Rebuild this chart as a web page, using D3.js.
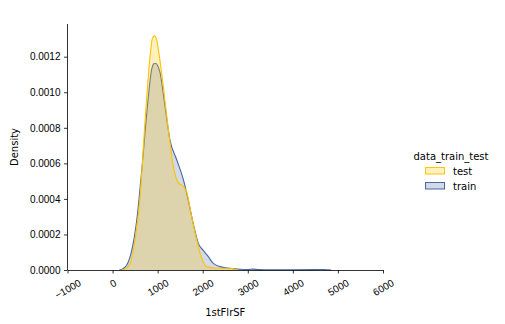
<html lang="en">
  <head>
    <meta charset="UTF-8" />
    <style>
      body { margin: 0; background: white; }
      svg { font-family: "DejaVu Sans", sans-serif; }
      .tick text { font-size: 10px; fill: #000; }
      .domain, .tick line { stroke: #000; stroke-width: 0.8; }
    </style>
    <title>KDE 1stFlrSF</title>
  </head>
  <body>
    <script src="https://cdn.jsdelivr.net/npm/d3@7"></script>
    <script>
      // values
      const seriesNames = ["test", "train"];
      const trainX = [150, 200, 315, 425, 536, 647, 758, 869, 915, 957, 1000, 1053, 1164, 1275, 1423, 1570, 1681, 1792, 1903, 2013, 2124, 2235, 2384, 2605, 2827, 3000, 3100, 3250, 3500, 4000, 4500, 4700, 4850];
      const trainY = [0, 0.000003, 0.000028, 0.00011, 0.00028, 0.00056, 0.00088, 0.00113, 0.00116, 0.001163, 0.00115, 0.00111, 0.00092, 0.00073, 0.00062, 0.00051, 0.00039, 0.00026, 0.00015, 0.00011, 0.000075, 0.000037, 0.000019, 0.0000094, 0.000004, 0.000003, 0.000005, 0.000002, 0.000001, 0.000001, 0.000002, 0.000003, 0];
      const testX = [200, 260, 388, 499, 610, 721, 831, 880, 927, 975, 1016, 1127, 1238, 1349, 1460, 1570, 1644, 1755, 1866, 1977, 2088, 2310, 2605, 2780];
      const testY = [0, 0.000003, 0.000037, 0.00017, 0.00041, 0.00084, 0.0012, 0.0013, 0.001317, 0.0013, 0.00124, 0.00103, 0.00079, 0.00058, 0.00049, 0.00047, 0.00044, 0.0003, 0.00017, 0.000066, 0.000019, 0.00001, 0.00001, 0];
      const xTicks = [-1000, 0, 1000, 2000, 3000, 4000, 5000, 6000];
      const yTicks = [0, 0.0002, 0.0004, 0.0006, 0.0008, 0.001, 0.0012];

      const width = 505;
      const height = 324;
      const m = { left: 67.5, right: 383, top: 24, bottom: 270 };
      const colors = { test: "#ffc300", train: "#4a67a0" };

      const svg = d3.select("body").append("svg")
        .attr("width", width)
        .attr("height", height);

      const x = d3.scaleLinear().domain([-1000, 6000]).range([m.left, m.right]);
      const y = d3.scaleLinear().domain([0, 0.001384]).range([m.bottom, m.top]);

      const series = {
        train: trainX.map((v, i) => [v, trainY[i]]),
        test: testX.map((v, i) => [v, testY[i]])
      };

      const area = d3.area()
        .x(d => x(d[0]))
        .y0(y(0))
        .y1(d => y(d[1]))
        .curve(d3.curveMonotoneX);
      const line = d3.line()
        .x(d => x(d[0]))
        .y(d => y(d[1]))
        .curve(d3.curveMonotoneX);

      // train is drawn first, test on top
      ["train", "test"].forEach(name => {
        svg.append("path")
          .datum(series[name])
          .attr("d", area)
          .attr("fill", colors[name])
          .attr("fill-opacity", 0.25);
        svg.append("path")
          .datum(series[name])
          .attr("d", line)
          .attr("fill", "none")
          .attr("stroke", colors[name])
          .attr("stroke-width", 1.1);
      });

      const xAxis = svg.append("g")
        .attr("transform", "translate(0," + m.bottom + ")")
        .call(d3.axisBottom(x).tickValues(xTicks).tickSize(3.5).tickSizeOuter(0).tickFormat(d3.format("d")));
      // rotated labels: box of the rotated text hangs below the tick, centred on it
      xAxis.selectAll(".tick text")
        .attr("text-anchor", "middle")
        .attr("y", 0)
        .attr("dy", "0.345em")
        .attr("transform", function () {
          const w = this.getComputedTextLength();
          const h = 11.6;
          const off = 7 + (w * 0.5 + h * 0.866) / 2;
          return "translate(0," + off + ") rotate(-30)";
        });

      const yAxis = svg.append("g")
        .attr("transform", "translate(" + m.left + ",0)")
        .call(d3.axisLeft(y).tickValues(yTicks).tickSize(3.5).tickSizeOuter(0).tickPadding(3.5).tickFormat(d3.format(".4f")));
      yAxis.select(".domain").attr("d", "M0," + m.top + "V" + m.bottom);

      svg.append("text")
        .attr("transform", "translate(18," + (m.top + m.bottom) / 2 + ") rotate(-90)")
        .attr("text-anchor", "middle")
        .style("font-size", "10px")
        .text("Density");

      svg.append("text")
        .attr("x", (m.left + m.right) / 2)
        .attr("y", 316)
        .attr("text-anchor", "middle")
        .style("font-size", "10px")
        .text("1stFlrSF");

      // legend
      const legend = svg.append("g");
      legend.append("text")
        .attr("x", 451)
        .attr("y", 159.5)
        .attr("text-anchor", "middle")
        .style("font-size", "10px")
        .text("data_train_test");
      seriesNames.forEach((name, i) => {
        legend.append("rect")
          .attr("x", 425.5)
          .attr("y", 167.5 + i * 15)
          .attr("width", 19)
          .attr("height", 6.5)
          .attr("fill", d3.color(colors[name]).copy({ opacity: 0.25 }))
          .attr("stroke", colors[name])
          .attr("stroke-width", 1);
        legend.append("text")
          .attr("x", 453)
          .attr("y", 174.5 + i * 15)
          .style("font-size", "10px")
          .text(name);
      });
    </script>
  </body>
</html>
